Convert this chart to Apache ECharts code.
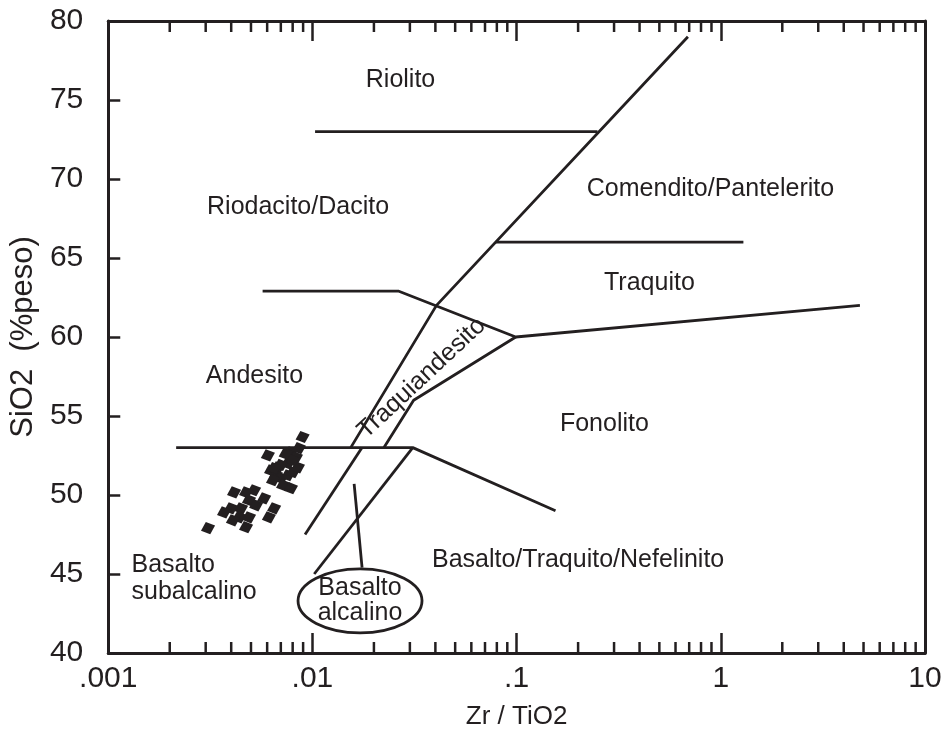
<!DOCTYPE html>
<html><head><meta charset="utf-8">
<script src="https://cdn.jsdelivr.net/npm/echarts@6/dist/echarts.min.js"></script>
<style>html,body{margin:0;padding:0;background:#fff}#c{width:952px;height:735px}</style>
</head><body><div id="c"></div>
<script>
// ---- tick labels ----
const xTickLabels = ['.001', '.01', '.1', '1', '10'];
const minorMultipliers = [2, 3, 4, 5, 6, 7, 8, 9];
const decades = [0.001, 0.01, 0.1, 1];

// ---- samples (Zr/TiO2, SiO2) ----
const sampleZrTiO2 = [0.00895,0.00859,0.00785,0.00605,0.0083,0.00759,0.00678,0.00627,0.00663,0.00702,0.00759,0.00804,0.00849,0.00718,0.00785,0.00641,0.00518,0.00473,0.00413,0.00489,0.0058,0.0053,0.00447,0.00399,0.00649,0.00369,0.00438,0.00489,0.00612,0.00473,0.00408,0.00308,0.0074,0.0080,0.0070,0.0065];
const sampleSiO2   = [53.67,52.96,52.70,52.51,52.38,52.0,51.75,51.56,51.25,51.06,51.25,51.44,51.75,50.62,50.43,50.94,50.30,50.17,50.17,49.67,49.79,49.35,49.16,49.16,49.16,48.90,48.59,48.59,48.59,47.96,48.40,47.90,52.6,52.2,51.9,51.7];

// ---- field boundaries [Zr/TiO2, SiO2] ----
const boundaryMain = [[0.69, 79], [0.0405, 62.0], [0.0154, 53]];
const boundaryRiolito = [[0.0103, 73], [0.249, 73]];
const boundaryComendito = [[0.079, 66], [1.29, 66]];
const boundaryAndesito = [[0.0057, 62.9], [0.0265, 62.9], [0.099, 60], [4.8, 62]];
const boundaryTraquiandesito = [[0.099, 60], [0.0313, 56], [0.0224, 53]];
const boundary53 = [[0.00215, 53], [0.031, 53], [0.155, 49]];
const boundaryAlcalinoLeft = [[0.0175, 53], [0.0092, 47.5]];
const boundaryAlcalinoRight = [[0.031, 53], [0.0102, 45]];
const pointerAlcalino = [[0.016, 50.7], [0.0175, 45.4]];
const boundaries = [boundaryMain, boundaryRiolito, boundaryComendito, boundaryAndesito,
  boundaryTraquiandesito, boundary53, boundaryAlcalinoLeft, boundaryAlcalinoRight, pointerAlcalino];

// ---- field names ----
const regionNames = ['Riolito', 'Riodacito/Dacito', 'Comendito/Pantelerito', 'Traquito', 'Andesito',
  'Traquiandesito', 'Fonolito', 'Basalto/Traquito/Nefelinito'];
const regionX = [0.027, 0.0085, 0.89, 0.447, 0.0052, 0.0343, 0.269, 0.2];
const regionY = [76.25, 68.2, 69.35, 63.4, 57.5, 57.4, 54.5, 45.9];
const regionRotate = [0, 0, 0, 0, 0, 43, 0, 0];
const subalcalinoLabel = 'Basalto\nsubalcalino';
const subalcalinoPos = [0.0013, 44.7];
const alcalinoLabel = 'Basalto\nalcalino';
const alcalinoPos = [0.0171, 43.3];

const INK = '#231f20';
const FONT = '"Liberation Sans", Arial, sans-serif';

const chart = echarts.init(document.getElementById('c'));

const minorTicks = [];
decades.forEach(d => minorMultipliers.forEach(m => minorTicks.push([d * m, 40])));

const series = [];
boundaries.forEach(b => series.push({
  type: 'line', data: b, symbol: 'none', silent: true, z: 3,
  lineStyle: { color: INK, width: 2.8 }, animation: false
}));

series.push({
  type: 'custom', data: minorTicks, encode: { x: 0, y: 1 }, silent: true, z: 4, animation: false,
  renderItem: (params, api) => {
    const v = api.value(0);
    const b = api.coord([v, 40]);
    const t = api.coord([v, 80]);
    return { type: 'group', children: [
      { type: 'line', shape: { x1: b[0], y1: b[1], x2: b[0], y2: b[1] - 11 }, style: { stroke: INK, lineWidth: 2.5 } },
      { type: 'line', shape: { x1: t[0], y1: t[1], x2: t[0], y2: t[1] + 11 }, style: { stroke: INK, lineWidth: 2.5 } }
    ]};
  }
});

series.push({
  type: 'scatter', data: sampleZrTiO2.map((x, i) => [x, sampleSiO2[i]]),
  symbol: 'diamond', symbolSize: [15, 13], symbolRotate: 20, z: 5, animation: false,
  itemStyle: { color: INK, opacity: 1 }
});

const labelData = regionNames.map((n, i) => ({ name: n, value: [regionX[i], regionY[i]], rot: regionRotate[i], align: 'center' }))
  .concat([{ name: subalcalinoLabel, value: subalcalinoPos, rot: 0, align: 'left' }]);

series.push({
  type: 'custom', data: labelData.map(d => d.value), encode: { x: 0, y: 1 }, silent: true, z: 6, animation: false,
  renderItem: (params, api) => {
    const d = labelData[params.dataIndex];
    const c = api.coord([api.value(0), api.value(1)]);
    return { type: 'text', x: c[0], y: c[1], rotation: d.rot * Math.PI / 180,
      style: { text: d.name, fill: INK, font: '25px ' + FONT, align: d.align, verticalAlign: 'middle', lineHeight: 27 } };
  }
});

series.push({
  type: 'custom', data: [alcalinoPos], encode: { x: 0, y: 1 }, silent: true, z: 7, animation: false,
  renderItem: (params, api) => {
    const c = api.coord([api.value(0), api.value(1)]);
    return { type: 'group', children: [
      { type: 'ellipse', shape: { cx: c[0], cy: c[1], rx: 62, ry: 32 }, style: { fill: '#fff', stroke: INK, lineWidth: 2.8 } },
      { type: 'text', x: c[0], y: c[1], style: { text: alcalinoLabel, fill: INK, font: '25px ' + FONT, align: 'center', verticalAlign: 'middle', lineHeight: 25 } }
    ]};
  }
});

const xCommon = {
  type: 'log', logBase: 10, min: 0.001, max: 10,
  axisLine: { show: true, onZero: false, lineStyle: { color: INK, width: 3 } },
  axisTick: { show: true, inside: true, length: 20, lineStyle: { color: INK, width: 2.5 } },
  splitLine: { show: false }, minorTick: { show: false }
};

chart.setOption({
  animation: false,
  backgroundColor: '#fff',
  textStyle: { fontFamily: FONT },
  grid: { left: 107, right: 27, top: 21, bottom: 82, containLabel: false },
  xAxis: [
    Object.assign({}, xCommon, {
      position: 'bottom',
      axisLabel: { color: INK, fontSize: 30, fontFamily: FONT, margin: 11,
        formatter: v => xTickLabels[Math.round(Math.log10(v)) + 3] },
      name: 'Zr / TiO2', nameLocation: 'middle', nameGap: 51,
      nameTextStyle: { color: INK, fontSize: 26, fontFamily: FONT }
    }),
    Object.assign({}, xCommon, { position: 'top', axisLabel: { show: false } })
  ],
  yAxis: [
    { type: 'value', min: 40, max: 80, interval: 5, position: 'left',
      axisLine: { show: true, onZero: false, lineStyle: { color: INK, width: 3 } },
      axisTick: { show: true, inside: true, length: 12, lineStyle: { color: INK, width: 2.5 } },
      axisLabel: { color: INK, fontSize: 30, fontFamily: FONT, margin: 25 },
      splitLine: { show: false },
      name: 'SiO2  (%peso)', nameLocation: 'middle', nameGap: 66, nameRotate: 90,
      nameTextStyle: { color: INK, fontSize: 31, fontFamily: FONT } },
    { type: 'value', min: 40, max: 80, interval: 5, position: 'right',
      axisLine: { show: true, onZero: false, lineStyle: { color: INK, width: 3 } },
      axisTick: { show: false }, axisLabel: { show: false }, splitLine: { show: false } }
  ],
  series: series
});
</script>
</body></html>
